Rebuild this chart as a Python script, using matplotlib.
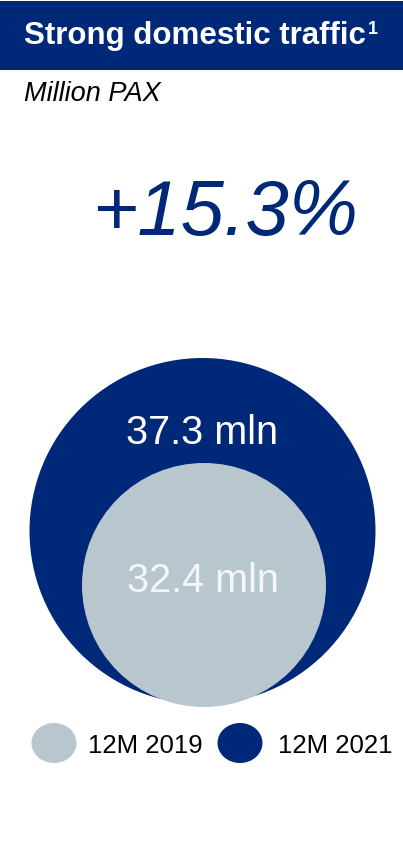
import matplotlib.pyplot as plt
from matplotlib.patches import Circle, Ellipse, Rectangle

title = "Strong domestic traffic"
subtitle = "Million PAX"
growth = "+15.3%"
periods = ["12M 2019", "12M 2021"]
values = [32.4, 37.3]  # million passengers

blue = "#002878"
grey = "#b8c6ce"
colors = [grey, blue]

plt.rcParams['font.family'] = ['Liberation Sans', 'DejaVu Sans']

fig = plt.figure(figsize=(4.03, 8.43), dpi=100)
ax = fig.add_axes([0, 0, 1, 1])
ax.set_xlim(0, 403)
ax.set_ylim(843, 0)
ax.axis('off')

# header bar
ax.add_patch(Rectangle((0, 1), 403, 69, color=blue, lw=0))
ax.text(24, 36, title, color='white', fontsize=22.5, fontweight='bold',
        va='center', ha='left')
ax.text(368, 30, "1", color='white', fontsize=13, fontweight='bold',
        va='center', ha='left')
ax.text(24, 94, subtitle, fontsize=19.5, style='italic', va='center', ha='left')

ax.text(225, 214, growth, color=blue, fontsize=56, style='italic',
        va='center', ha='center')

# circles: 2021 (outer) and 2019 (inner)
circ = [(204, 585, 122), (202.5, 531, 173)]
for i in [1, 0]:
    x, y, r = circ[i]
    ax.add_patch(Circle((x, y), r, color=colors[i], lw=0))
ax.text(202, 433, f"{values[1]} mln", color='white', fontsize=28.5,
        va='center', ha='center')
ax.text(203, 581, f"{values[0]} mln", color='#f4f6f8', fontsize=28.5,
        va='center', ha='center')

# legend
leg_x = [54, 240]
txt_x = [88, 278]
for i in range(2):
    ax.add_patch(Ellipse((leg_x[i], 743), 45, 40, color=colors[i], lw=0))
    ax.text(txt_x[i], 746, periods[i], fontsize=18.5, va='center', ha='left')

fig.savefig("out.png", dpi=100)
